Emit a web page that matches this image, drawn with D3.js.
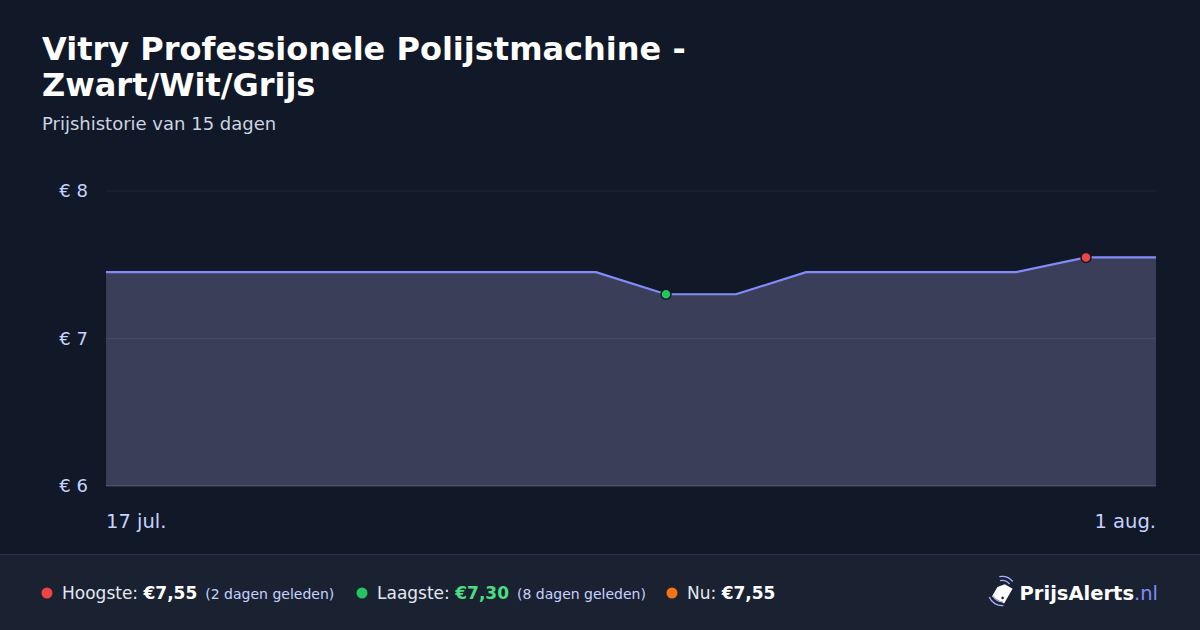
<!DOCTYPE html>
<html>
<head>
<meta charset="utf-8">
<script src="https://cdn.jsdelivr.net/npm/d3@7"></script>
<style>
  html, body { margin: 0; padding: 0; background: #111827; }
  svg { display: block; font-family: "DejaVu Sans", sans-serif; }
</style>
</head>
<body>
<script>
// price history, one point per day
const dates = [
  "2024-07-17", "2024-07-18", "2024-07-19", "2024-07-20", "2024-07-21",
  "2024-07-22", "2024-07-23", "2024-07-24", "2024-07-25", "2024-07-26",
  "2024-07-27", "2024-07-28", "2024-07-29", "2024-07-30", "2024-07-31",
  "2024-08-01"
];
const prices = [
  7.45, 7.45, 7.45, 7.45, 7.45, 7.45, 7.45, 7.45,
  7.30, 7.30, 7.45, 7.45, 7.45, 7.45, 7.55, 7.55
];
const yTicks = [6, 7, 8];
const xTickLabels = ["17 jul.", "1 aug."];

const titleLines = ["Vitry Professionele Polijstmachine -", "Zwart/Wit/Grijs"];
const subtitle = "Prijshistorie van 15 dagen";

const W = 1200, H = 630;
const parse = d3.timeParse("%Y-%m-%d");
const data = dates.map((d, i) => ({ date: parse(d), price: prices[i] }));

const svg = d3.select("body").append("svg")
  .attr("width", W).attr("height", H);

svg.append("rect").attr("width", W).attr("height", H).attr("fill", "#111827");

// title block
svg.append("g").selectAll("text")
  .data(titleLines).enter().append("text")
  .attr("x", 42).attr("y", (d, i) => 60 + i * 36)
  .attr("fill", "#ffffff").attr("font-size", 32).attr("font-weight", "bold")
  .text(d => d);

svg.append("text")
  .attr("x", 42).attr("y", 130)
  .attr("fill", "#cbd5e1").attr("font-size", 18)
  .text(subtitle);

// scales
const x = d3.scaleTime()
  .domain(d3.extent(data, d => d.date))
  .range([106, 1156]);
const y = d3.scaleLinear().domain([6, 8]).range([486, 191]);

// area + line
const area = d3.area()
  .x(d => x(d.date)).y0(y(6)).y1(d => y(d.price));
const line = d3.line()
  .x(d => x(d.date)).y(d => y(d.price));

svg.append("path").datum(data)
  .attr("d", area).attr("fill", "#3a3e58");

// grid lines (over the fill, faint)
svg.append("g").selectAll("line")
  .data(yTicks).enter().append("line")
  .attr("x1", 106).attr("x2", 1156)
  .attr("y1", d => y(d)).attr("y2", d => y(d))
  .attr("stroke", d => d === 6 ? "rgba(255,255,255,0.14)" : "rgba(255,255,255,0.06)")
  .attr("stroke-width", d => d === 6 ? 1.5 : 1);

svg.append("path").datum(data)
  .attr("d", line).attr("fill", "none")
  .attr("stroke", "#818cf8").attr("stroke-width", 2.2);

// y axis labels
const yAxis = d3.axisLeft(y).tickValues(yTicks)
  .tickSize(0).tickPadding(0)
  .tickFormat(d => "€ " + d);
const yg = svg.append("g").attr("transform", "translate(88,0)").call(yAxis);
yg.select(".domain").remove();
yg.selectAll("text")
  .attr("fill", "#c7d2fe").attr("font-size", 18)
  .attr("font-family", "DejaVu Sans, sans-serif");

// x axis labels (first and last)
const xEnds = [data[0].date, data[data.length - 1].date];
svg.append("g").selectAll("text")
  .data(xEnds).enter().append("text")
  .attr("x", d => x(d)).attr("y", 528)
  .attr("text-anchor", (d, i) => i === 0 ? "start" : "end")
  .attr("fill", "#c7d2fe").attr("font-size", 19.5)
  .text((d, i) => xTickLabels[i]);

// min / max markers
const maxPt = data.reduce((a, b) => b.price > a.price ? b : a);
const minPt = data.reduce((a, b) => b.price < a.price ? b : a);
[[minPt, "#22c55e"], [maxPt, "#ef4444"]].forEach(([p, c]) => {
  svg.append("circle")
    .attr("cx", x(p.date)).attr("cy", y(p.price)).attr("r", 5)
    .attr("fill", c).attr("stroke", "#111827").attr("stroke-width", 1.5);
});

// footer
svg.append("rect").attr("x", 0).attr("y", 554).attr("width", W).attr("height", 76)
  .attr("fill", "#1a2232");
svg.append("line").attr("x1", 0).attr("x2", W).attr("y1", 554.5).attr("y2", 554.5)
  .attr("stroke", "#283256").attr("stroke-width", 1);

const fmt = v => "€" + v.toFixed(2).replace(".", ",");
const current = prices[prices.length - 1];
const stats = [
  { x: 47, color: "#ef4444", label: "Hoogste: ", value: fmt(maxPt.price), valueColor: "#ffffff", note: "(2 dagen geleden)" },
  { x: 362, color: "#22c55e", label: "Laagste: ", value: fmt(minPt.price), valueColor: "#4ade80", note: "(8 dagen geleden)" },
  { x: 672, color: "#f97316", label: "Nu: ", value: fmt(current), valueColor: "#ffffff", note: "" }
];

stats.forEach(s => {
  svg.append("circle").attr("cx", s.x).attr("cy", 593).attr("r", 5.5).attr("fill", s.color);
  const t = svg.append("text").attr("x", s.x + 15).attr("y", 599).attr("font-size", 17);
  t.append("tspan").attr("fill", "#e2e8f0").text(s.label);
  t.append("tspan").attr("fill", s.valueColor).attr("font-weight", "bold").text(s.value);
  if (s.note) {
    t.append("tspan").attr("fill", "#c7d2fe").attr("font-size", 14).attr("dx", 8).text(s.note);
  }
});

// logo
const logo = svg.append("g");
logo.append("text").attr("x", 1158).attr("y", 600).attr("text-anchor", "end")
  .attr("font-size", 19.5).attr("font-weight", "bold")
  .call(t => {
    t.append("tspan").attr("fill", "#ffffff").text("PrijsAlerts");
    t.append("tspan").attr("fill", "#818cf8").attr("font-weight", "normal").text(".nl");
  });
// tag icon
const ic = logo.append("g").attr("transform", "translate(1002,593) rotate(30)");
ic.append("path")
  .attr("d", "M-7,-3 L-2,-9 L7,-9 L7,8 L-7,8 Z")
  .attr("fill", "#ffffff");
ic.append("circle").attr("cx", 3).attr("cy", 4).attr("r", 1.3).attr("fill", "#1a2232");
[9, 13].forEach(r => {
  logo.append("path")
    .attr("d", d3.arc()({ innerRadius: r, outerRadius: r + 1.3, startAngle: -0.2, endAngle: 0.9 }))
    .attr("transform", "translate(1002,590)").attr("fill", "#a5b4fc");
  logo.append("path")
    .attr("d", d3.arc()({ innerRadius: r, outerRadius: r + 1.3, startAngle: Math.PI + 0.2 - 0.3, endAngle: Math.PI + 1.2 }))
    .attr("transform", "translate(1002,592)").attr("fill", "#a5b4fc");
});
</script>
</body>
</html>
